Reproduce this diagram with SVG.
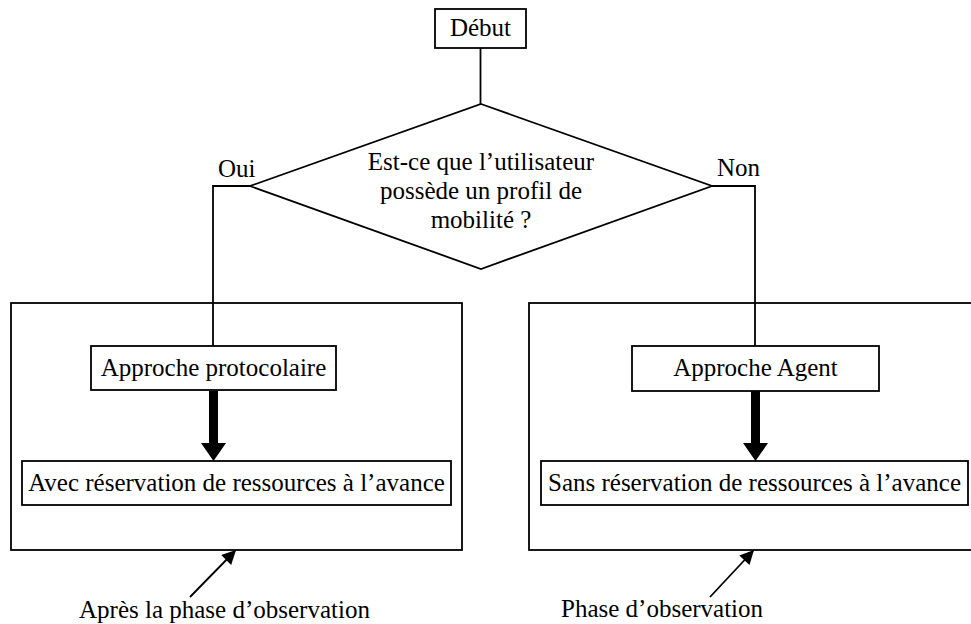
<svg xmlns="http://www.w3.org/2000/svg" width="971" height="624" viewBox="0 0 971 624">
<defs>
<style>
.box{fill:#fff;stroke:#000;stroke-width:1.8}
.frame{fill:none;stroke:#000;stroke-width:1.8}
.ln{fill:none;stroke:#000;stroke-width:1.8}
.t{font-family:"Liberation Serif","Times New Roman",serif;font-size:25px;fill:#000}
.c{text-anchor:middle}
</style>
<marker id="ah" viewBox="0 0 10 10" refX="10" refY="5" markerWidth="8" markerHeight="8" markerUnits="userSpaceOnUse" orient="auto">
<path d="M0,0 L10,5 L0,10 z" fill="#000"/>
</marker>
<marker id="ah2" viewBox="0 0 10 10" refX="9" refY="5" markerWidth="16" markerHeight="14" markerUnits="userSpaceOnUse" orient="auto">
<path d="M0,0 L10,5 L0,10 z" fill="#000"/>
</marker>
</defs>
<rect width="971" height="624" fill="#fff"/>

<g id="frames">
<rect id="frame-left" class="frame" x="11" y="303" width="451" height="247"/>
<rect id="frame-right" class="frame" x="529" y="303" width="450" height="247"/>
</g>

<g id="connectors">
<line class="ln" x1="480.5" y1="48" x2="480.5" y2="104"/>
<polyline class="ln" points="250,186 213,186 213,346"/>
<polyline class="ln" points="712,186 755,186 755,346"/>
<path d="M209,391 H218 V443 H226 L213.5,461 L201,443 H209 Z" fill="#000"/>
<path d="M751,391 H760 V443 H768 L755.5,461 L743,443 H751 Z" fill="#000"/>
<line class="ln" x1="190" y1="597" x2="235" y2="551" marker-end="url(#ah2)"/>
<line class="ln" x1="710" y1="597" x2="753" y2="551" marker-end="url(#ah2)"/>
</g>

<g id="debut">
<rect class="box" x="435" y="9" width="91" height="39"/>
<text class="t c" x="480.5" y="36">Début</text>
</g>

<g id="decision">
<polygon class="box" points="481,104 712,186 481,269 250,186"/>
<text class="t c" x="481" y="170">Est-ce que l’utilisateur</text>
<text class="t c" x="481" y="199">possède un profil de</text>
<text class="t c" x="481" y="228">mobilité ?</text>
</g>

<g id="label-oui"><text class="t" x="218" y="177">Oui</text></g>
<g id="label-non"><text class="t" x="717" y="176">Non</text></g>

<g id="approche-protocolaire">
<rect class="box" x="91" y="346" width="245" height="44"/>
<text class="t c" x="213.5" y="376">Approche protocolaire</text>
</g>

<g id="approche-agent">
<rect class="box" x="632" y="346" width="247" height="45"/>
<text class="t c" x="755.5" y="376">Approche Agent</text>
</g>

<g id="avec-reservation">
<rect class="box" x="22" y="461" width="429" height="44"/>
<text class="t c" x="236.5" y="491">Avec réservation de ressources à l’avance</text>
</g>

<g id="sans-reservation">
<rect class="box" x="541" y="461" width="427" height="44"/>
<text class="t c" x="754.5" y="491">Sans réservation de ressources à l’avance</text>
</g>

<g id="label-apres"><text class="t" x="79" y="618">Après la phase d’observation</text></g>
<g id="label-phase"><text class="t" x="561" y="617">Phase d’observation</text></g>
</svg>
